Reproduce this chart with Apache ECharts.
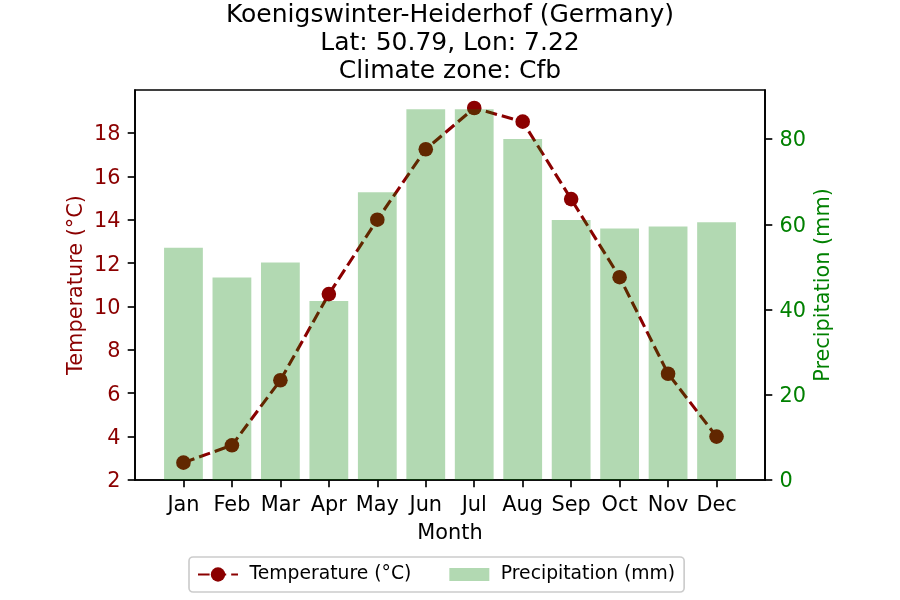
<!DOCTYPE html>
<html><head><meta charset="utf-8"><style>html,body{margin:0;padding:0;background:#fff}#c{width:900px;height:600px}</style>
<script src="https://cdn.jsdelivr.net/npm/echarts@6/dist/echarts.min.js"></script></head><body><div id="c"></div>
<script>
const months=['Jan','Feb','Mar','Apr','May','Jun','Jul','Aug','Sep','Oct','Nov','Dec'];
const temperature=[2.8,3.6,6.6,10.57,14.0,17.25,19.15,18.52,14.95,11.35,6.9,4.0];
const precipitation=[54.5,47.5,51,42,67.5,87,87,80,61,59,59.5,60.5];
const tempTicks=[2,4,6,8,10,12,14,16,18];
const precipTicks=[0,20,40,60,80];
const pad=a=>['-',...a,'-'];
const f='"DejaVu Sans"';
const axisStroke={color:'#000',width:1.67};
const chart=echarts.init(document.getElementById('c'),null,{renderer:'canvas'});
chart.setOption({
 animation:false,
 textStyle:{fontFamily:f},
 title:{text:'Koenigswinter-Heiderhof (Germany)\nLat: 50.79, Lon: 7.22\nClimate zone: Cfb',left:445,top:-3.5,textAlign:'center',
  textStyle:{fontFamily:f,fontSize:25,fontWeight:'normal',color:'#000',lineHeight:28}},
 grid:{left:135,right:135,top:90,bottom:120,show:true,borderColor:'#000',borderWidth:1.67,backgroundColor:'transparent'},
 legend:{left:189,top:557,padding:[8,9,8,8],itemGap:38,itemWidth:40,itemHeight:18,backgroundColor:'#fff',borderColor:'#ccc',borderWidth:1.67,borderRadius:4,
  textStyle:{fontFamily:f,fontSize:18.75,color:'#000',padding:[0,0,0,6.5]},
  data:[{name:'Temperature (°C)'},{name:'Precipitation (mm)',icon:'path://M0 0L0 0M0 2.5H40V15.5H0ZM0 18L0 18'}]},
 xAxis:{type:'category',data:['',...months,''],boundaryGap:false,name:'Month',nameLocation:'middle',nameGap:43,nameMoveOverlap:false,nameTextStyle:{fontFamily:f,fontSize:20.83,color:'#000'},
  axisLine:{lineStyle:axisStroke},axisTick:{length:7.3,lineStyle:axisStroke,interval:i=>i>0&&i<=months.length},axisLabel:{fontFamily:f,fontSize:20.83,color:'#000',margin:14.6,interval:0}},
 yAxis:[
  {type:'value',min:2,max:19.98,interval:2,position:'left',name:'Temperature (°C)',nameLocation:'middle',nameGap:48,nameMoveOverlap:false,nameTextStyle:{fontFamily:f,fontSize:20.83,color:'#8b0000'},
   axisLine:{show:true,lineStyle:axisStroke},axisTick:{show:true,length:7.3,lineStyle:axisStroke,customValues:tempTicks},
   axisLabel:{fontFamily:f,fontSize:20.83,color:'#8b0000',margin:14.6,verticalAlign:'top',lineHeight:4,customValues:tempTicks},splitLine:{show:false}},
  {type:'value',min:0,max:91.5,interval:20,position:'right',name:'Precipitation (mm)',nameLocation:'middle',nameGap:48,nameMoveOverlap:false,nameTextStyle:{fontFamily:f,fontSize:20.83,color:'#008000'},
   axisLine:{show:true,lineStyle:axisStroke},axisTick:{show:true,length:7.3,lineStyle:axisStroke,customValues:precipTicks},
   axisLabel:{fontFamily:f,fontSize:20.83,color:'#008000',margin:14.6,verticalAlign:'top',lineHeight:4,customValues:precipTicks},splitLine:{show:false}}
 ],
 series:[
  {name:'Temperature (°C)',type:'line',yAxisIndex:0,data:pad(temperature),symbol:'circle',symbolSize:14.6,lineStyle:{color:'#8b0000',width:3.1,type:[11.6,5]},itemStyle:{color:'#8b0000'},z:2},
  {name:'Precipitation (mm)',type:'bar',yAxisIndex:1,data:pad(precipitation),barWidth:38.8,itemStyle:{color:'rgba(0,128,0,0.3)'},z:3}
 ]
});
</script></body></html>
